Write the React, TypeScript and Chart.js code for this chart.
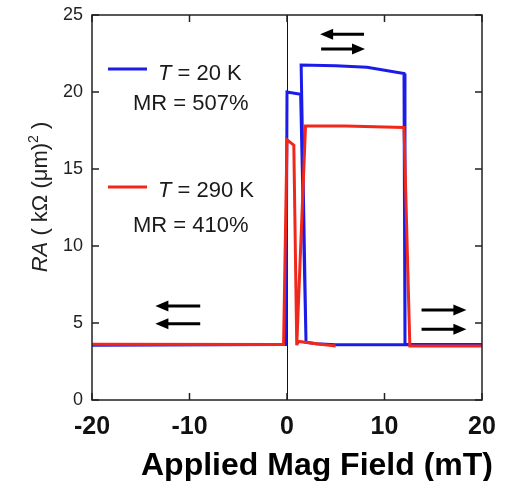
import React, { useEffect, useRef } from "react";
import { Chart, registerables } from "chart.js";

Chart.register(...registerables);

const FONT = "'Liberation Sans', Arial, Helvetica, sans-serif";

// Axis ranges / ticks
const xMin = -20, xMax = 20, xStep = 10;
const yMin = 0, yMax = 25, yStep = 5;

// T = 20 K (blue)
const blueSweep1Field = [-20, -0.1, 0.0, 1.4, 1.95, 3.0, 5.0, 20];
const blueSweep1RA = [3.55, 3.6, 20.0, 19.85, 3.75, 3.65, 3.58, 3.58];
const blueSweep2Field = [1.95, 1.45, 5.0, 8.2, 12.0, 12.1, 20];
const blueSweep2RA = [3.75, 21.75, 21.7, 21.6, 21.2, 3.6, 3.6];

// T = 290 K (red)
const redSweep1Field = [-20, -0.35, 0.0, 0.7, 1.0, 1.9, 6.0, 9.0, 12.0, 12.6, 20];
const redSweep1RA = [3.62, 3.6, 16.9, 16.55, 3.55, 17.8, 17.8, 17.75, 17.7, 3.5, 3.5];
const redSweep2Field = [1.0, 1.2, 3.0, 5.0];
const redSweep2RA = [3.6, 3.8, 3.65, 3.5];

// Legend texts
const legendBlue = ["T", " = 20 K", "MR = 507%"];
const legendRed = ["T", " = 290 K", "MR = 410%"];
const xTitle = "Applied Mag Field (mT)";

// Field-direction arrows: [xTail, xHead, y] in data units
const arrows: number[][] = [
  [7.9, 3.4, 23.75],
  [3.5, 8.0, 22.8],
  [-8.9, -13.5, 6.1],
  [-8.9, -13.5, 4.95],
  [13.8, 18.4, 5.85],
  [13.8, 18.4, 4.6],
];

const BLUE = "#1c1ce8";
const RED = "#f0281c";

function toPoints(xs1: number[], ys1: number[], xs2: number[], ys2: number[]) {
  const a = xs1.map((x, i) => ({ x, y: ys1[i] as number | null }));
  const b = xs2.map((x, i) => ({ x, y: ys2[i] as number | null }));
  return [...a, { x: xs2[0], y: null }, ...b];
}

const decor = {
  id: "decor",
  beforeDatasetsDraw(chart: any) {
    const { ctx, chartArea, scales } = chart;
    const x0 = scales.x.getPixelForValue(0);
    ctx.save();
    ctx.strokeStyle = "#111";
    ctx.lineWidth = 1;
    ctx.beginPath();
    ctx.moveTo(Math.round(x0) + 0.5, chartArea.top);
    ctx.lineTo(Math.round(x0) + 0.5, chartArea.bottom);
    ctx.stroke();
    ctx.restore();
  },
  afterDraw(chart: any) {
    const { ctx, chartArea, scales } = chart;
    const { left, right, top, bottom } = chartArea;
    ctx.save();
    // frame
    ctx.strokeStyle = "#222";
    ctx.lineWidth = 1.5;
    ctx.strokeRect(left, top, right - left, bottom - top);
    // inward ticks
    const tl = 7;
    ctx.lineWidth = 1.5;
    ctx.beginPath();
    for (let v = xMin; v <= xMax; v += xStep) {
      const px = scales.x.getPixelForValue(v);
      ctx.moveTo(px, bottom);
      ctx.lineTo(px, bottom - tl);
      ctx.moveTo(px, top);
      ctx.lineTo(px, top + tl);
    }
    for (let v = yMin; v <= yMax; v += yStep) {
      const py = scales.y.getPixelForValue(v);
      ctx.moveTo(left, py);
      ctx.lineTo(left + tl, py);
      ctx.moveTo(right, py);
      ctx.lineTo(right - tl, py);
    }
    ctx.stroke();

    // arrows
    ctx.strokeStyle = "#000";
    ctx.fillStyle = "#000";
    for (const [xt, xh, yv] of arrows) {
      const pt = scales.x.getPixelForValue(xt);
      const ph = scales.x.getPixelForValue(xh);
      const py = scales.y.getPixelForValue(yv);
      const dir = ph > pt ? 1 : -1;
      const hl = 13, hw = 5.5;
      ctx.lineWidth = 3;
      ctx.beginPath();
      ctx.moveTo(pt, py);
      ctx.lineTo(ph - dir * hl * 0.8, py);
      ctx.stroke();
      ctx.beginPath();
      ctx.moveTo(ph, py);
      ctx.lineTo(ph - dir * hl, py - hw);
      ctx.lineTo(ph - dir * hl, py + hw);
      ctx.closePath();
      ctx.fill();
    }

    // legend
    const drawEntry = (color: string, texts: string[], lineY: number, b1: number, b2: number) => {
      ctx.strokeStyle = color;
      ctx.lineWidth = 3;
      ctx.beginPath();
      ctx.moveTo(left + 16, lineY);
      ctx.lineTo(left + 55, lineY);
      ctx.stroke();
      ctx.fillStyle = "#1a1a1a";
      ctx.textBaseline = "alphabetic";
      ctx.textAlign = "left";
      ctx.font = `italic 22px ${FONT}`;
      ctx.fillText(texts[0], left + 66, b1);
      const w = ctx.measureText(texts[0]).width;
      ctx.font = `22px ${FONT}`;
      ctx.fillText(texts[1], left + 66 + w, b1);
      ctx.fillText(texts[2], left + 41, b2);
    };
    drawEntry(BLUE, legendBlue, top + 54, top + 65, top + 95);
    drawEntry(RED, legendRed, top + 172, top + 182, top + 217);

    // x title
    ctx.fillStyle = "#000";
    ctx.font = `bold 32px ${FONT}`;
    ctx.textAlign = "center";
    ctx.textBaseline = "alphabetic";
    ctx.fillText(xTitle, 317, 475);

    // y title (rotated)
    ctx.translate(47, 197);
    ctx.rotate(-Math.PI / 2);
    ctx.fillStyle = "#222";
    const parts: [string, string, number][] = [
      ["RA", `italic 22px ${FONT}`, 0],
      [" ( k\u03A9 (\u03BCm)", `22px ${FONT}`, 0],
      ["2", `14px ${FONT}`, -9],
      [" )", `22px ${FONT}`, 0],
    ];
    let total = 0;
    for (const [t, f] of parts) {
      ctx.font = f;
      total += ctx.measureText(t).width;
    }
    let cx = -total / 2;
    ctx.textAlign = "left";
    for (const [t, f, dy] of parts) {
      ctx.font = f;
      ctx.fillText(t, cx, dy);
      cx += ctx.measureText(t).width;
    }
    ctx.restore();
  },
};

export default function App() {
  const ref = useRef<HTMLCanvasElement | null>(null);
  useEffect(() => {
    if (!ref.current) return;
    const chart = new Chart(ref.current, {
      type: "scatter",
      data: {
        datasets: [
          {
            label: "T = 290 K",
            data: toPoints(redSweep1Field, redSweep1RA, redSweep2Field, redSweep2RA),
            borderColor: RED,
            backgroundColor: RED,
            borderWidth: 3,
            pointRadius: 0,
            showLine: true,
            spanGaps: false,
            tension: 0,
          },
          {
            label: "T = 20 K",
            data: toPoints(blueSweep1Field, blueSweep1RA, blueSweep2Field, blueSweep2RA),
            borderColor: BLUE,
            backgroundColor: BLUE,
            borderWidth: 3,
            pointRadius: 0,
            showLine: true,
            spanGaps: false,
            tension: 0,
          },
        ],
      },
      options: {
        responsive: false,
        maintainAspectRatio: false,
        animation: false,
        layout: { padding: { top: 15, right: 24, left: 0, bottom: 0 } },
        plugins: { legend: { display: false }, tooltip: { enabled: false } },
        scales: {
          x: {
            type: "linear",
            min: xMin,
            max: xMax,
            ticks: {
              stepSize: xStep,
              font: { family: FONT, size: 25, weight: "bold" },
              color: "#111",
              padding: 12,
            },
            grid: { display: false, drawTicks: false },
            border: { display: false },
            afterFit: (s: any) => {
              s.height = 81;
              s.paddingLeft = 0;
              s.paddingRight = 0;
            },
          },
          y: {
            type: "linear",
            min: yMin,
            max: yMax,
            ticks: {
              stepSize: yStep,
              font: { family: FONT, size: 18 },
              color: "#222",
              padding: 9,
            },
            grid: { display: false, drawTicks: false },
            border: { display: false },
            afterFit: (s: any) => {
              s.width = 92;
              s.paddingTop = 0;
              s.paddingBottom = 0;
            },
          },
        },
      } as any,
      plugins: [decor],
    });
    return () => chart.destroy();
  }, []);
  return (
    <div style={{ position: "absolute", left: 0, top: 0, width: 506, height: 481, background: "#fff" }}>
      <canvas ref={ref} width={506} height={481} style={{ width: 506, height: 481, display: "block" }} />
    </div>
  );
}
